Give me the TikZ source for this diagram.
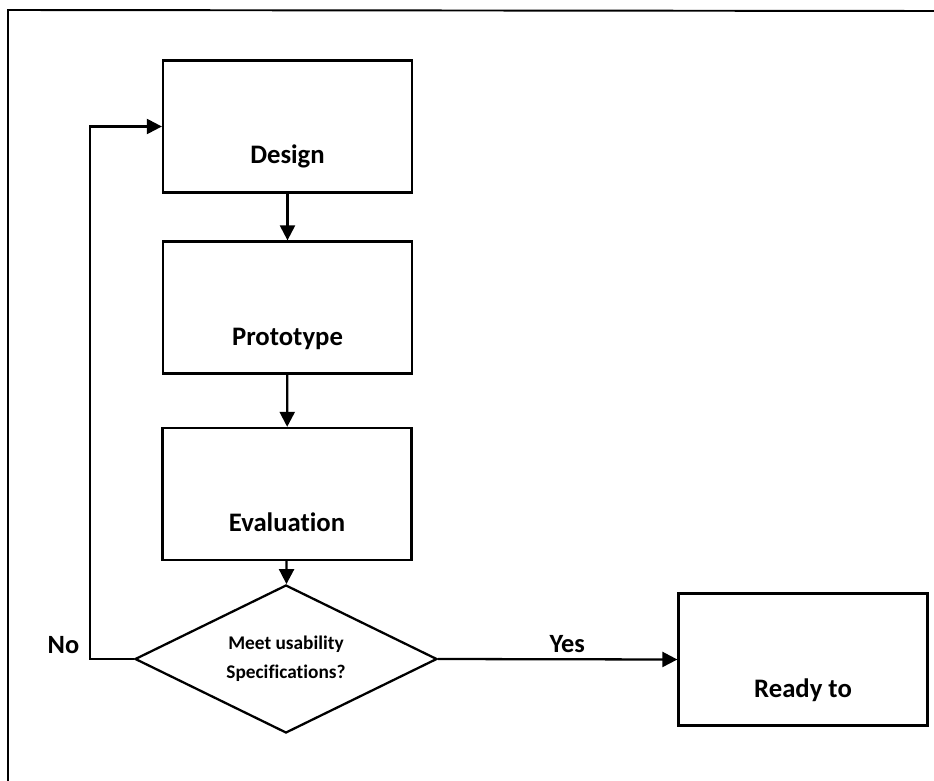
\documentclass[tikz,border=0pt]{standalone}
\usepackage{fontspec}
\setmainfont[Ligatures=NoCommon]{Carlito}
\usepackage{tikz}
\usetikzlibrary{arrows.meta, shapes.geometric}

\begin{document}
\begin{tikzpicture}[
    box/.style={draw, line width=1.3pt, minimum width=4.98cm, minimum height=2.64cm,
        text height=1.5cm, text depth=0pt, font=\fontsize{15.2}{18}\selectfont\bfseries},
    check/.style={draw, diamond, line width=1.3pt, aspect=2.04, inner sep=0pt,
        minimum width=6.04cm, minimum height=2.96cm, align=center,
        font=\fontsize{11}{16.4}\selectfont\bfseries},
    lbl/.style={font=\fontsize{15}{17}\selectfont\bfseries},
    flow/.style={line width=1.3pt, -{Triangle[length=0.3cm, width=0.3cm]}}
]
    \useasboundingbox (0,0) rectangle (18.68,-15.62);

    % Rahmen (nur links und oben sichtbar)
    \draw[line width=1.1pt] (0.16,-15.62) -- (0.16,-0.2) -- (18.68,-0.22);

    % Schritte
    \node[box] (design) at (5.75,-2.53) {Design};
    \node[box] (proto) at (5.75,-6.15) {Prototype};
    \node[box] (eval) at (5.74,-9.88) {Evaluation};
    \node[check] (spec) at (5.72,-13.18) {Meet usability\\Specifications?};
    \node[box] (ready) at (16.06,-13.19) {Ready to};

    % Pfeile nach unten
    \draw[flow] (design) -- (proto);
    \draw[flow] (proto) -- (eval);
    \draw[flow] (eval) -- (spec);

    % Ja / Nein
    \draw[flow] (spec.east) -- node[lbl, above, pos=0.54] (yes) {Yes} (ready.west);
    \draw[flow] (spec.west) -- ++(-0.88,0) |- (design.west);
    \node[lbl] (no) at (1.27,-12.9) {No};
\end{tikzpicture}
\end{document}
